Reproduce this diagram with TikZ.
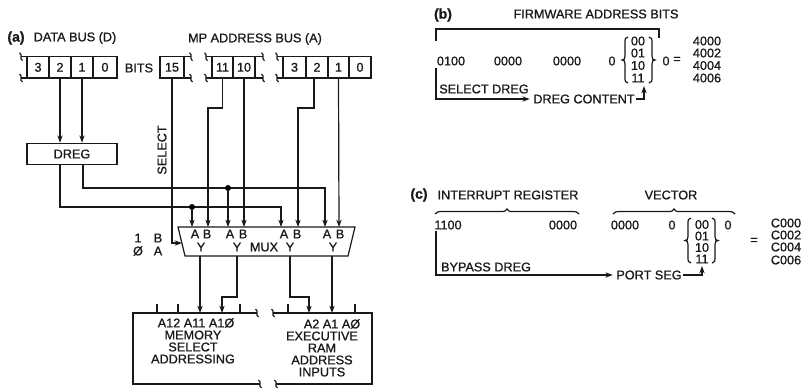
\documentclass[tikz,border=0pt]{standalone}
\usepackage{fontspec}
\setmainfont{Liberation Sans}
\newfontfamily\lab[FakeBold=1.0]{Liberation Sans}
\usetikzlibrary{arrows.meta,calc}
\tikzset{
  wire/.style={line width=0.9pt,draw=black!90},
  arr/.style={wire,-{Stealth[length=5.5pt,width=4pt]}},
  txt/.style={font=\lab\fontsize{9.5}{10}\selectfont,inner sep=0pt,text=black!90},
  cell/.style={txt,draw=black!90,line width=0.9pt,minimum height=16pt,inner sep=0pt},
  dot/.style={circle,fill=black,inner sep=0pt,minimum size=4.5pt},
}
\newcommand\rcell[4]{\pgfmathsetmacro\cw{(#3-#2)*0.75}\pgfmathsetmacro\cx{(#3+#2)/2}\node[cell,minimum width=\cw pt] (#1) at (\cx,67.3) {#4};}
\newcommand\brk[2]{\pgfmathsetmacro\xa{#1-1.5}\pgfmathsetmacro\xb{#1+2.5}\pgfmathsetmacro\xc{#1-2.5}\pgfmathsetmacro\xd{#1+1.5}\pgfmathsetmacro\ya{#2-4}\pgfmathsetmacro\yb{#2-1.5}\pgfmathsetmacro\yc{#2+1.5}\pgfmathsetmacro\yd{#2+4}\draw[wire] (\xa,\ya) .. controls (\xb,\yb) and (\xc,\yc) .. (\xd,\yd);}
\newcommand\vbr[4]{\pgfmathsetmacro\xm{#1+3*#2}\pgfmathsetmacro\xe{#1+6*#2}\pgfmathsetmacro\ym{(#3+#4)/2}\draw[wire] (\xe,#3) .. controls (\xm,#3) and (\xm,#3+2) .. (\xm,#3+7) -- (\xm,\ym-4) .. controls (\xm,\ym-1) and (#1+2*#2,\ym) .. (#1,\ym) .. controls (#1+2*#2,\ym) and (\xm,\ym+1) .. (\xm,\ym+4) -- (\xm,#4-7) .. controls (\xm,#4-2) and (\xm,#4) .. (\xe,#4);}
\newcommand\hbr[3]{\pgfmathsetmacro\xm{(#1+#2)/2}\draw[wire] (#1,#3+4) .. controls (#1+1,#3+2) and (#1+3,#3+1.5) .. (#1+8,#3+1.5) -- (\xm-6,#3+1.5) .. controls (\xm-2,#3+1.5) and (\xm-1,#3+1) .. (\xm,#3-1) .. controls (\xm+1,#3+1) and (\xm+2,#3+1.5) .. (\xm+6,#3+1.5) -- (#2-8,#3+1.5) .. controls (#2-3,#3+1.5) and (#2-1,#3+2) .. (#2,#3+4);}
\begin{document}
\begin{tikzpicture}[x=0.75pt,y=-0.75pt]
\useasboundingbox (0,0) rectangle (803,387);
% ---------- panel (a) headings
\node[txt] (lba) at (16,38) {\bfseries\fontsize{10.5}{11}\selectfont (a)};
\node[txt] (lbd) at (75,38) {DATA BUS (D)};
\node[txt] (lbm) at (255,39) {MP ADDRESS BUS (A)};
\node[txt] (lbb) at (139,68) {BITS};
% registers
\rcell{d3}{27}{49}{3}\rcell{d2}{49}{71}{2}\rcell{d1}{71}{93}{1}\rcell{d0}{93}{117}{0}
\rcell{a15}{160}{184}{15}
\rcell{a11}{212}{233}{11}\rcell{a10}{233}{255}{10}
\rcell{a3}{283}{306}{3}\rcell{a2}{306}{328}{2}\rcell{a1}{328}{349}{1}\rcell{a0}{349}{371}{0}
\foreach \yy in {56.7,78}{
  \draw[wire] (21,\yy) -- (27,\yy);
  \draw[wire] (184,\yy) -- (191,\yy);
  \draw[wire] (206,\yy) -- (212,\yy);
  \draw[wire] (255,\yy) -- (263,\yy);
  \draw[wire] (277,\yy) -- (283,\yy);
  \brk{21}{\yy}\brk{191}{\yy}\brk{206}{\yy}\brk{263}{\yy}\brk{277}{\yy}
}
% DREG
\node[cell,minimum width=67.5pt] (dreg) at (72,154) {DREG};
\node[txt,rotate=90] (sel) at (162,150) {SELECT};
% MUX
\draw[wire] (178,227) -- (355,227) -- (348,256) -- (185,256) -- cycle;
\node[txt] (mux) at (264,247) {MUX};
\foreach \n/\xa/\xb/\xy in {1/195/207/201,2/230/243/237,3/284/297/290,4/327/340/333}{
  \node[txt] (mA\n) at (\xa,234) {A};
  \node[txt] (mB\n) at (\xb,234) {B};
  \node[txt] (mY\n) at (\xy,247) {Y};
}
\coordinate (i1a) at (192,227);\coordinate (i1b) at (208,227);
\coordinate (i2a) at (228,227);\coordinate (i2b) at (244,227);
\coordinate (i3a) at (281,227);\coordinate (i3b) at (298,227);
\coordinate (i4a) at (325,227);\coordinate (i4b) at (339,227);
\coordinate (msel) at (182,243);
\coordinate (o1) at (200,256);\coordinate (o2) at (237,256);
\coordinate (o3) at (290,256);\coordinate (o4) at (332,256);
\node[txt] (k1) at (138,238) {1};
\node[txt] (k2) at (158,238) {B};
\node[txt] (k3) at (138,251) {Ø};
\node[txt] (k4) at (158,251) {A};
% bus wires
\draw[arr] (d2.south) -- (d2.south |- dreg.north);
\draw[arr] (d1.south) -- (d1.south |- dreg.north);
\draw[arr] (a15.south) -- (a15.south |- msel) -- (msel);
\draw[arr] (a11.south) |- (208,108) -- (i1b);
\draw[arr] (a10.south) -- (i2b);
\coordinate (a2out) at (314,78);
\draw[arr] (a2out) |- (298,108) -- (i3b);
\draw[arr] (a1.south) -- (i4b);
\coordinate (dl) at (60,165);\coordinate (dr) at (83,165);
\draw[arr] (dl) |- (281,207) -- (i3a);
\draw[arr] (dr) |- (325,188) -- (i4a);
\node[dot] (j1) at (192,207) {};
\node[dot] (j2) at (228,188) {};
\draw[arr] (j1) -- (i1a);
\draw[arr] (j2) -- (i2a);
% lower boxes
\draw[wire] (257,313) -- (133,313) -- (133,384) -- (260,384);
\draw[wire] (273,313) -- (372,313) -- (372,384) -- (276,384);
\brk{257}{313}\brk{273}{313}\brk{260}{384}\brk{276}{384}
\coordinate (t1) at (200,313);\coordinate (t2) at (222,313);
\coordinate (t3) at (309,313);\coordinate (t4) at (332,313);
\draw[arr] (o1) -- (t1);
\draw[arr] (o2) |- (222,297) -- (t2);
\draw[arr] (o3) |- (309,297) -- (t3);
\draw[arr] (o4) -- (t4);
\foreach \xx in {157,178,240,288,355}{\draw[wire] (\xx,304) -- (\xx,313);}
\node[txt] (m1) at (196,323) {A12 A11 A1Ø};
\node[txt] (m2) at (193,335) {MEMORY};
\node[txt] (m3) at (193,347) {SELECT};
\node[txt] (m4) at (193,359) {ADDRESSING};
\node[txt] (r1) at (332,324) {A2 A1 AØ};
\node[txt] (r2) at (322,336) {EXECUTIVE};
\node[txt] (r3) at (322,348) {RAM};
\node[txt] (r4) at (322,360) {ADDRESS};
\node[txt] (r5) at (322,372) {INPUTS};
% ---------- panel (b)
\node[txt] (lbB) at (443,15) {\bfseries\fontsize{10.5}{11}\selectfont (b)};
\node[txt] (fw) at (596,14) {FIRMWARE ADDRESS BITS};
\draw[wire] (436,41) -- (436,29) -- (659,29) -- (659,38);
\node[txt] (b1) at (451,61) {0100};
\node[txt] (b2) at (508,61) {0000};
\node[txt] (b3) at (567,61) {0000};
\node[txt] (b4) at (612,61) {0};
\vbr{622}{1}{37}{83}
\vbr{655}{-1}{37}{83}
\node[txt] (b00) at (638,41) {00};
\node[txt] (b01) at (638,53) {01};
\node[txt] (b10) at (638,65.5) {10};
\node[txt] (b11) at (638,78) {11};
\node[txt] (b5) at (666,61) {0};
\node[txt] (beq) at (677,60) {=};
\node[txt] (h1) at (707,41) {4000};
\node[txt] (h2) at (707,53) {4002};
\node[txt] (h3) at (707,65.5) {4004};
\node[txt] (h4) at (707,78) {4006};
\node[txt] (sd) at (484,89) {SELECT DREG};
\node[txt] (dc) at (584,99) {DREG CONTENT};
\coordinate (bs) at (436,68);
\draw[arr] (bs) |- ([xshift=-2.5pt]dc.west);
\coordinate (bu) at (644,86);
\draw[arr] ([xshift=1pt]dc.east) -| (bu);
% ---------- panel (c)
\node[txt] (lbC) at (419,195) {\bfseries\fontsize{10.5}{11}\selectfont (c)};
\node[txt] (ir) at (508,195) {INTERRUPT REGISTER};
\node[txt] (vc) at (671,195) {VECTOR};
\hbr{435}{579}{210}
\hbr{613}{735}{210}
\node[txt] (c1) at (448,225) {1100};
\node[txt] (c2) at (563,225) {0000};
\node[txt] (c3) at (625,225) {0000};
\node[txt] (c4) at (672,225) {0};
\vbr{685}{1}{218}{263}
\vbr{718}{-1}{218}{263}
\node[txt] (c00) at (702,224.5) {00};
\node[txt] (c01) at (702,236) {01};
\node[txt] (c10) at (702,247.5) {10};
\node[txt] (c11) at (702,259) {11};
\node[txt] (c5) at (728,225) {0};
\node[txt] (ceq) at (754,241) {=};
\node[txt] (x1) at (786,223) {C000};
\node[txt] (x2) at (786,235) {C002};
\node[txt] (x3) at (786,247) {C004};
\node[txt] (x4) at (786,260) {C006};
\node[txt] (bp) at (486,267) {BYPASS DREG};
\node[txt] (ps) at (649,275) {PORT SEG};
\coordinate (cs) at (436,231);
\draw[arr] (cs) |- ([xshift=-2.5pt]ps.west);
\coordinate (cu) at (702,266);
\draw[arr] ([xshift=1pt]ps.east) -| (cu);
\end{tikzpicture}
\end{document}
